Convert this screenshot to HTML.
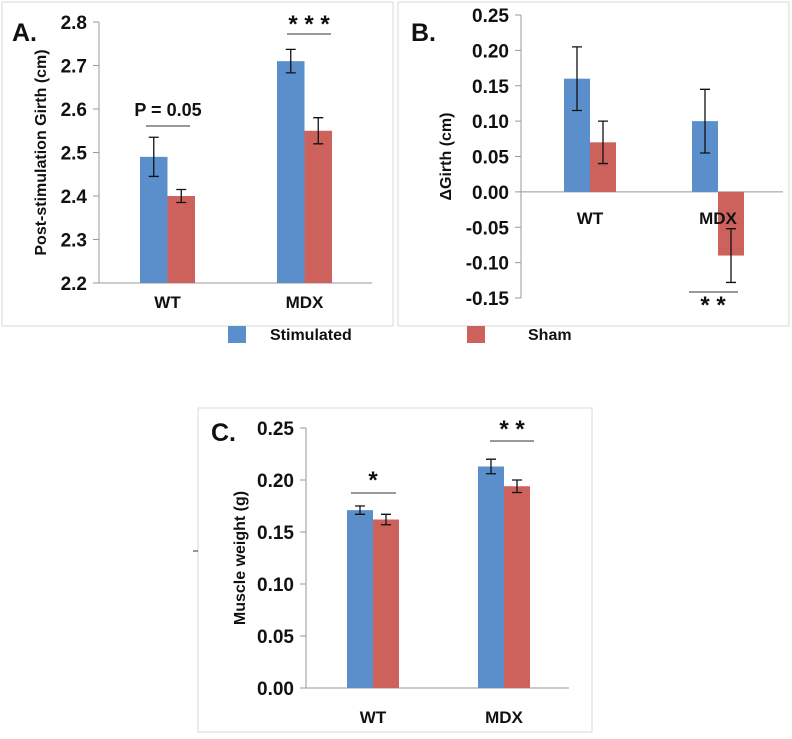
<!DOCTYPE html>
<html><head><meta charset="utf-8"><style>
body{margin:0;background:#fff;font-family:"Liberation Sans",sans-serif}
svg text{font-family:"Liberation Sans",sans-serif;font-weight:bold;fill:#111}
</style></head><body>
<svg id="s" width="792" height="734" xmlns="http://www.w3.org/2000/svg">
<rect x="2" y="2" width="391" height="324" fill="none" stroke="#d8d8d8"/>
<rect x="398" y="2" width="391" height="324" fill="none" stroke="#d8d8d8"/>
<rect x="198" y="408" width="394" height="324" fill="none" stroke="#d8d8d8"/>
<rect x="228" y="326" width="18" height="17" fill="#5b8fcb"/>
<text x="270" y="340" font-size="16">Stimulated</text>
<rect x="467" y="326" width="18" height="17" fill="#cd625c"/>
<text x="528" y="340" font-size="16">Sham</text>
<line x1="193" y1="551" x2="198" y2="551" stroke="#333"/>
</svg>
<script>
const categories=["WT","MDX"];
const aStim=[2.49,2.71], aStimErr=[0.045,0.027], aSham=[2.40,2.55], aShamErr=[0.015,0.03];
const aTicks=["2.2","2.3","2.4","2.5","2.6","2.7","2.8"];
const bStim=[0.16,0.10], bStimErr=[0.045,0.045], bSham=[0.07,-0.09], bShamErr=[0.03,0.038];
const bTicks=["-0.15","-0.10","-0.05","0.00","0.05","0.10","0.15","0.20","0.25"];
const cStim=[0.171,0.213], cStimErr=[0.004,0.007], cSham=[0.162,0.194], cShamErr=[0.005,0.006];
const cTicks=["0.00","0.05","0.10","0.15","0.20","0.25"];
const S=document.getElementById('s'),NS="http://www.w3.org/2000/svg";
function el(t,a,txt){const e=document.createElementNS(NS,t);for(const k in a)e.setAttribute(k,a[k]);if(txt!=null)e.textContent=txt;S.appendChild(e);return e;}
function panel(p){
  const y=v=>p.y0+(v-p.min)/(p.max-p.min)*(p.y1-p.y0);
  p.ticks.forEach(t=>{const v=parseFloat(t);
    const tl=el('line',{x1:p.ax-6,x2:p.ax,y1:y(v),y2:y(v),stroke:'#999'});
    
    
    const tx=el('text',{x:p.ax-12,y:y(v)+7,'font-size':19,'text-anchor':'end'},t);
    
    
  });
  const ya=el('line',{x1:p.ax,x2:p.ax,y1:y(p.min),y2:y(p.max),stroke:'#999'});
  
  
  const base=p.base;
  const xa=el('line',{x1:p.ax,x2:p.xr,y1:y(base),y2:y(base),stroke:'#999'});
  
  
  const series=[[p.stim,p.stimErr,'#5b8fcb','stim'],[p.sham,p.shamErr,'#cd625c','sham']];
  categories.forEach((c,i)=>{
    series.forEach((s,j)=>{
      const x=p.gx[i]+j*p.bw, v=s[0][i], e=s[1][i];
      const r=el('rect',{x:x,y:Math.min(y(v),y(base)),width:p.bw,height:Math.abs(y(v)-y(base)),fill:s[2]});
      
      
      const cx=x+p.bw/2;
      const eb=el('path',{d:`M${cx},${y(v+e)}V${y(v-e)}M${cx-5},${y(v+e)}h10M${cx-5},${y(v-e)}h10`,stroke:'#111','stroke-width':1.3,fill:'none'});
      
      
    });
    const cl=el('text',{x:p.gx[i]+p.bw,y:p.catY,'font-size':17,'text-anchor':'middle'},c);
    
    
  });
  const lb=el('text',{x:p.lx,y:p.ly,'font-size':25},p.label);
  
  
  const yt=el('text',{x:0,y:0,'font-size':16,'text-anchor':'middle',transform:`translate(${p.tx},${(y(p.min)+y(p.max))/2}) rotate(-90)`},p.title);
  
  
}
panel({id:'panel-a',label:'A.',lx:12,ly:41,min:2.2,max:2.8,y0:283,y1:22,ax:99,xr:372,base:2.2,ticks:aTicks,stim:aStim,stimErr:aStimErr,sham:aSham,shamErr:aShamErr,gx:[140,277],bw:27.5,catY:308,tx:46,title:'Post-stimulation Girth (cm)'});
panel({id:'panel-b',label:'B.',lx:411,ly:41,min:-0.15,max:0.25,y0:298,y1:15,ax:521,xr:783,base:0,ticks:bTicks,stim:bStim,stimErr:bStimErr,sham:bSham,shamErr:bShamErr,gx:[564,692],bw:26,catY:224,tx:451,title:'ΔGirth (cm)'});
panel({id:'panel-c',label:'C.',lx:211,ly:441,min:0,max:0.25,y0:688,y1:428,ax:306,xr:569,base:0,ticks:cTicks,stim:cStim,stimErr:cStimErr,sham:cSham,shamErr:cShamErr,gx:[347,478],bw:26,catY:723,tx:245,title:'Muscle weight (g)'});
const sig=[[146,190,126,'P = 0.05',168,116,18],[287,331,34,'* * *',309,32,24],[689,738,292,'* *',713,313,24],[351,396,493,'*',373,488,24],[490,534,441,'* *',512,437,24]];
sig.forEach(s=>{
  const l=el('line',{x1:s[0],x2:s[1],y1:s[2],y2:s[2],stroke:'#333'});
  
  
  const t=el('text',{x:s[4],y:s[5],'font-size':s[6],'text-anchor':'middle'},s[3]);
  
  
});
</script>
</body></html>
